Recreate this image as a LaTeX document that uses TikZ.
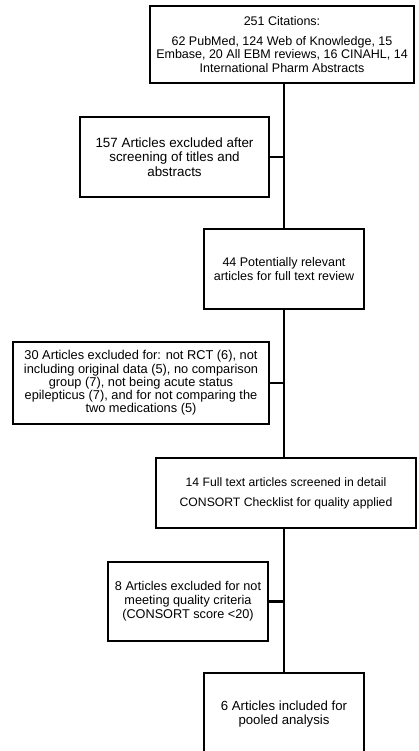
\documentclass[tikz,border=0pt]{standalone}
\usepackage{fontspec}
\setmainfont{Liberation Sans}
\begin{document}
\begin{tikzpicture}[x=1pt,y=-1pt,
  box/.style={draw,line width=2.9pt,align=center,inner sep=0pt,
    font=\fontsize{12.5}{13.5}\selectfont},
  link/.style={line width=2.9pt}]
\useasboundingbox (0,0) rectangle (418,751);
\clip (0,0) rectangle (418,751);
\node[box,minimum width=264pt,minimum height=77pt] (cit) at (282,44.5)
  {251 Citations:\\[6.5pt]62 PubMed, 124 Web of Knowledge, 15\\Embase, 20 All EBM reviews, 16 CINAHL, 14\\International Pharm Abstracts};
\node[box,minimum width=189pt,minimum height=80pt,font=\fontsize{13.4}{14.5}\selectfont] (excl1) at (174.5,157)
  {157 Articles excluded after\\screening of titles and\\abstracts};
\node[box,minimum width=160pt,minimum height=80pt] (rel) at (284,269)
  {44 Potentially relevant\\articles for full text review};
\node[box,minimum width=256pt,minimum height=82pt,font=\fontsize{12.8}{13.2}\selectfont] (excl2) at (141,383)
  {30 Articles excluded for: not RCT (6), not\\including original data (5), no comparison\\group (7), not being acute status\\epilepticus (7), and for not comparing the\\two medications (5)};
\node[box,minimum width=260pt,minimum height=70pt,font=\fontsize{12.2}{13.5}\selectfont] (full) at (286,493)
  {14 Full text articles screened in detail\\[6.5pt]CONSORT Checklist for quality applied};
\node[box,minimum width=160pt,minimum height=79pt,font=\fontsize{12.7}{14}\selectfont] (excl3) at (188,601.5)
  {8 Articles excluded for not\\meeting quality criteria\\(CONSORT score <20)};
\node[box,minimum width=160pt,minimum height=83pt,font=\fontsize{13.2}{14}\selectfont] (incl) at (284,714.5)
  {6 Articles included for\\pooled analysis};
\draw[link] (cit.south -| rel.north) -- (rel.north);
\draw[link] (rel.south) -- (rel.south |- full.north);
\draw[link] (rel.south |- full.south) -- (incl.north);
\draw[link] (excl1.east) -- (excl1.east -| rel.north);
\draw[link] (excl2.east) -- (excl2.east -| rel.north);
\draw[link] (excl3.east) -- (excl3.east -| rel.north);
\end{tikzpicture}
\end{document}
